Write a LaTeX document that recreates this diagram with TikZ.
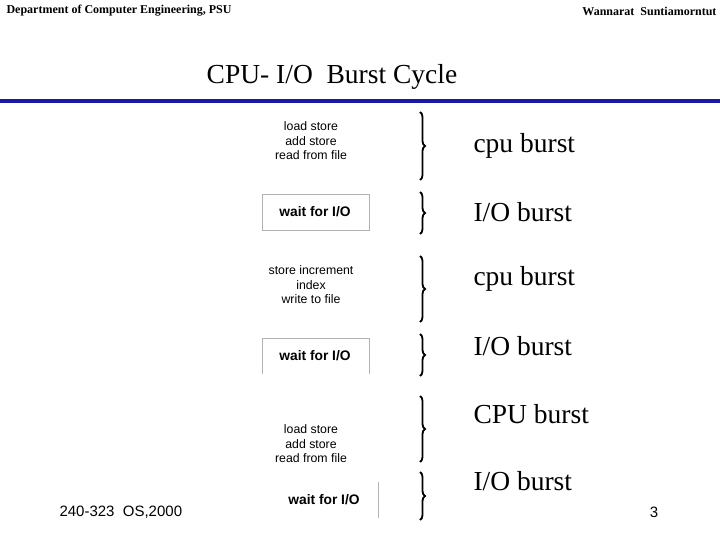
\documentclass[tikz,border=0pt]{standalone}
\usepackage{fontspec}
\setmainfont{Liberation Serif}
\newfontfamily\sans{Liberation Sans}
\usetikzlibrary{decorations.pathreplacing}
\begin{document}
\begin{tikzpicture}[x=1pt,y=-1pt,
  hdr/.style={font=\bfseries\fontsize{12}{14}\selectfont},
  lbl/.style={anchor=west,font=\fontsize{27.5}{30}\selectfont},
  code/.style={font=\sans\fontsize{12.3}{14.5}\selectfont,align=center},
  wait/.style={font=\sans\bfseries\fontsize{13.8}{16}\selectfont},
  br/.style={decorate,decoration={brace,amplitude=5pt},line width=1.8pt},
  boxl/.style={draw=black!30,line width=0.8pt}]
\useasboundingbox (0,0) rectangle (720,540);
\node[hdr,anchor=west] (h1) at (3,11) {Department of Computer Engineering, PSU};
\node[hdr,anchor=east] (h2) at (720,11) {Wannarat\hspace{6pt}Suntiamorntut};
\node[font=\fontsize{27.5}{30}\selectfont] (t) at (332,77) {CPU- I/O\ \ Burst Cycle};
\fill[blue!60!black!90] (0,99.5) rectangle (720,103.5);
\node[code] (c1) at (311,141) {load store\\add store\\read from file};
\node[code] (c2) at (311,285) {store increment\\index\\write to file};
\node[code] (c3) at (311,444) {load store\\add store\\read from file};
\node[wait] (w1) at (315,212) {wait for I/O};
\node[wait] (w2) at (315,356) {wait for I/O};
\node[wait] (w3) at (324,500) {wait for I/O};
\draw[boxl] (262,194) rectangle (369,230);
\draw[boxl] (262,374) -- (262,338) -- (369,338) -- (369,374);
\draw[boxl] (378,482) -- (378,518);
\coordinate (a1) at (420,112); \coordinate (b1) at (420,180);
\coordinate (a2) at (420,192); \coordinate (b2) at (420,234);
\coordinate (a3) at (420,256); \coordinate (b3) at (420,322);
\coordinate (a4) at (420,334); \coordinate (b4) at (420,376);
\coordinate (a5) at (420,396); \coordinate (b5) at (420,462);
\coordinate (a6) at (420,472); \coordinate (b6) at (420,520);
\foreach \i in {1,...,6} \draw[br] (a\i) -- (b\i);
\node[lbl] (l1) at (470,146) {cpu burst};
\node[lbl] (l2) at (470,212) {I/O burst};
\node[lbl] (l3) at (470,279) {cpu burst};
\node[lbl] (l4) at (470,346) {I/O burst};
\node[lbl] (l5) at (470,414) {CPU burst};
\node[lbl] (l6) at (470,481) {I/O burst};
\node[font=\sans\fontsize{15}{17}\selectfont,anchor=west] (f1) at (56,512) {240-323\ \ OS,2000};
\node[font=\sans\fontsize{15}{17}\selectfont] (f2) at (654,512) {3};
\end{tikzpicture}
\end{document}
